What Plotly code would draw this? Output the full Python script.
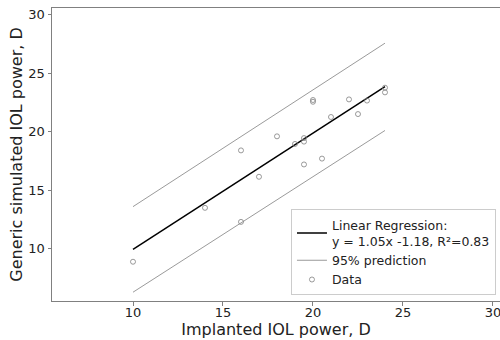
import plotly.graph_objects as go

# Data
implanted = [10, 14, 16, 16, 17, 18, 19, 19.5, 19.5, 19.5, 20, 20, 20.5, 21, 22, 22.5, 23, 24, 24]
simulated = [8.9, 13.5, 18.4, 12.3, 16.15, 19.6, 18.95, 19.45, 19.15, 17.2, 22.7, 22.55, 17.7, 21.25, 22.75, 21.5, 22.65, 23.75, 23.35]

reg_x = [10, 24]
reg_y = [9.95, 23.85]
upper_y = [13.6, 27.55]
lower_y = [6.3, 20.1]

x_ticks = [10, 15, 20, 25, 30]
y_ticks = [10, 15, 20, 25, 30]

FONT = "DejaVu Sans"
GRAY = "rgb(128,128,128)"

fig = go.Figure()
fig.add_trace(go.Scatter(
    x=reg_x, y=reg_y, mode="lines",
    line=dict(color="black", width=1.5),
    name="Linear Regression:<br>y = 1.05x -1.18, R²=0.83",
))
fig.add_trace(go.Scatter(
    x=reg_x, y=upper_y, mode="lines",
    line=dict(color=GRAY, width=0.8),
    name="95% prediction", legendgroup="pred",
))
fig.add_trace(go.Scatter(
    x=reg_x, y=lower_y, mode="lines",
    line=dict(color=GRAY, width=0.8),
    name="95% prediction", legendgroup="pred", showlegend=False,
))
fig.add_trace(go.Scatter(
    x=implanted, y=simulated, mode="markers",
    marker=dict(symbol="circle-open", size=5, color=GRAY, line=dict(width=0.8, color=GRAY)),
    name="Data",
))

fig.update_layout(
    width=500, height=340,
    margin=dict(l=52, r=0, t=8, b=39),
    plot_bgcolor="white", paper_bgcolor="white",
    font=dict(family=FONT, size=13, color="#222"),
    showlegend=True,
    legend=dict(
        x=0.991, y=0.02, xanchor="right", yanchor="bottom",
        bgcolor="rgba(255,255,255,0.85)", bordercolor="#cccccc", borderwidth=1,
        font=dict(family=FONT, size=12.5, color="#222"),
        itemwidth=30, tracegroupgap=0,
    ),
)
fig.update_xaxes(
    range=[5.5, 30.39], tickvals=x_ticks, ticktext=[str(v) for v in x_ticks],
    showgrid=False, zeroline=False,
    showline=True, linecolor=GRAY, linewidth=1, mirror=True,
    ticks="outside", ticklen=3.5, tickcolor=GRAY, tickwidth=0.8,
    ticklabeloverflow="allow", ticklabelstandoff=-4,
    tickfont=dict(family=FONT, size=13, color="#222"),
    title=dict(text="Implanted IOL power, D", font=dict(family=FONT, size=16, color="#222"), standoff=4),
)
fig.update_yaxes(
    range=[5.55, 30.55], tickvals=y_ticks, ticktext=[str(v) for v in y_ticks],
    showgrid=False, zeroline=False,
    showline=True, linecolor=GRAY, linewidth=1,
    ticks="outside", ticklen=3.5, tickcolor=GRAY, tickwidth=0.8,
    tickfont=dict(family=FONT, size=13, color="#222"),
    title=dict(text="Generic simulated IOL power, D", font=dict(family=FONT, size=16, color="#222"), standoff=1),
)

fig.write_html("out.html")
